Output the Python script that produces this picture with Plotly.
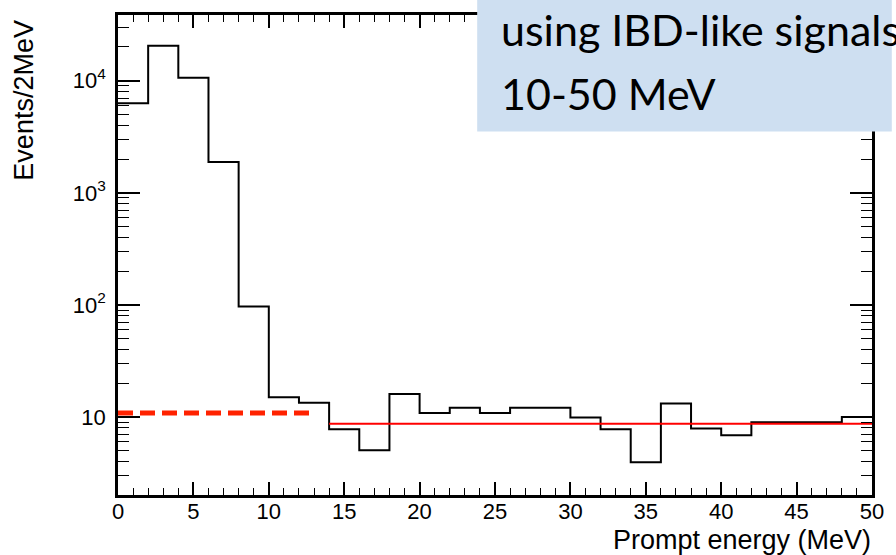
import numpy as np
import plotly.graph_objects as go

# ---- data ----
bin_low_edges = [0, 2, 4, 6, 8, 10, 12, 14, 16, 18, 20, 22, 24, 26, 28, 30, 32, 34, 36, 38, 40, 42, 44, 46, 48]
bin_width = 2
events = [6300, 20500, 10600, 1880, 97, 15.0, 13.4, 7.8, 5.05, 16.1, 10.9, 12.1, 10.9, 12.1, 12.1,
          9.9, 7.8, 3.95, 13.2, 7.9, 6.9, 9.0, 9.0, 9.0, 10.0]
fit_range = [14, 50]
fit_level = 8.7
extrap_range = [0, 12.8]
extrap_level = 10.9
x_ticks = [0, 5, 10, 15, 20, 25, 30, 35, 40, 45, 50]
y_ticks = [10, 100, 1000, 10000]
y_ticklabels = ["10", "10<sup>2</sup>", "10<sup>3</sup>", "10<sup>4</sup>"]
box_lines = ["using IBD-like signals", "10-50 MeV"]

# ---- geometry (pixels) ----
W, H = 896, 555
L, R, T, B = 118, 880, 13, 495
pw, ph = R - L, B - T
def px(xp): return (xp - L) / pw
def py(yp): return (B - yp) / ph

edges = bin_low_edges + [bin_low_edges[-1] + bin_width]
yvals = events + [events[-1]]

fig = go.Figure()
fig.add_trace(go.Scatter(x=edges, y=yvals, mode="lines", line=dict(shape="hv", color="black", width=2),
                         showlegend=False, hoverinfo="skip"))
fig.add_trace(go.Scatter(x=fit_range, y=[fit_level, fit_level], mode="lines",
                         line=dict(color="#ff0000", width=2), showlegend=False))
fig.add_trace(go.Scatter(x=extrap_range, y=[extrap_level, extrap_level], mode="lines",
                         line=dict(color="#ff2200", width=5, dash="15px,7px"), showlegend=False))

minor_y = [m * 10 ** k for k in range(0, 5) for m in range(2, 10) if 2 <= m * 10 ** k <= 38000]

tickfont = dict(family="Liberation Sans, Arial, sans-serif", size=22, color="black")
fig.update_xaxes(range=[0, 50], tickvals=x_ticks, ticks="inside", ticklen=13, tickwidth=1.5,
                 tickcolor="black", showline=True, linecolor="black", linewidth=2.5, mirror="ticks",
                 showgrid=False, zeroline=False, tickfont=tickfont, ticklabelstandoff=-5,
                 minor=dict(dtick=1, ticks="inside", ticklen=7, tickwidth=1.2, tickcolor="black", showgrid=False))
fig.update_yaxes(type="log", range=[0.305, 4.586], tickvals=y_ticks, ticktext=y_ticklabels,
                 ticks="inside", ticklen=22, tickwidth=1.5, tickcolor="black", showline=True,
                 linecolor="black", linewidth=2.5, mirror="ticks", showgrid=False, zeroline=False,
                 tickfont=tickfont, ticklabelstandoff=5,
                 minor=dict(tickvals=minor_y, ticks="inside", ticklen=11, tickwidth=1.2,
                            tickcolor="black", showgrid=False))

# text box
fig.add_shape(type="rect", xref="paper", yref="paper", x0=px(481), x1=px(900), y0=py(130), y1=py(-4),
              fillcolor="#cedff1", line=dict(width=0), layer="above")
boxfont = dict(family="Lato, Carlito, sans-serif", size=43, color="black")
fig.add_annotation(text=box_lines[0], xref="paper", yref="paper", x=px(503), y=py(28), xanchor="left",
                   yanchor="middle", showarrow=False, font=boxfont)
fig.add_annotation(text=box_lines[1], xref="paper", yref="paper", x=px(503), y=py(92), xanchor="left",
                   yanchor="middle", showarrow=False, font=boxfont)

titlefont = dict(family="Liberation Sans, Arial, sans-serif", size=27, color="black")
fig.add_annotation(text="Prompt energy (MeV)", xref="paper", yref="paper", x=px(881), y=py(540),
                   xanchor="right", yanchor="middle", showarrow=False, font=titlefont)
fig.add_annotation(text="Events/2MeV", xref="paper", yref="paper", x=px(23), y=py(98), textangle=-90,
                   xanchor="center", yanchor="middle", showarrow=False, font=titlefont)

fig.update_layout(width=W, height=H, margin=dict(l=L, r=W - R, t=T, b=H - B),
                  paper_bgcolor="white", plot_bgcolor="white")
fig.write_html("out.html", config={"displayModeBar": False},
               post_script="document.body.style.margin='0';document.body.style.overflow='hidden';")
